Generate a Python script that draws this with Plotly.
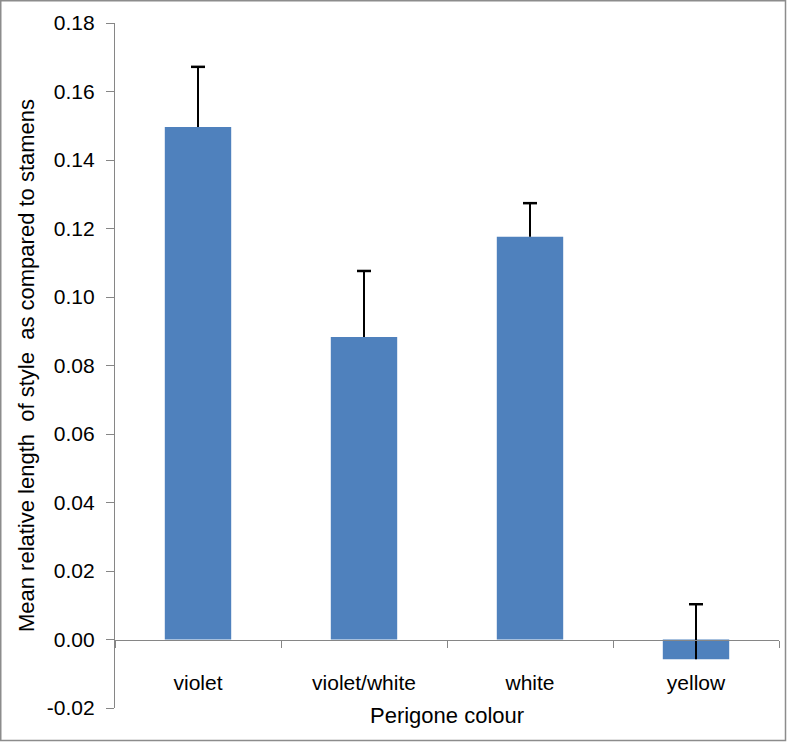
import plotly.graph_objects as go

categories = ["violet", "violet/white", "white", "yellow"]
means = [0.1496, 0.0883, 0.1176, -0.0058]
errors_plus = [0.0176, 0.0193, 0.0098, 0.0161]
ytick_vals = [-0.02, 0.00, 0.02, 0.04, 0.06, 0.08, 0.10, 0.12, 0.14, 0.16, 0.18]
ytick_text = ["-0.02", "0.00", "0.02", "0.04", "0.06", "0.08", "0.10", "0.12", "0.14", "0.16", "0.18"]

W, H = 787, 742
ML, MR, MT, MB = 115, 8, 23, 34
pw, ph = W - ML - MR, H - MT - MB

font = "Liberation Sans, Arial, sans-serif"

# error bar stems (upper side only) built from the data
stem_x, stem_y = [], []
for c, m, e in zip(categories, means, errors_plus):
    stem_x += [c, c, None]
    stem_y += [m, m + e, None]
cap_y = [m + e for m, e in zip(means, errors_plus)]

fig = go.Figure()
fig.add_trace(
    go.Bar(
        x=categories,
        y=means,
        marker=dict(color="#4F81BD", line=dict(width=0)),
        hoverinfo="skip",
    )
)
fig.add_trace(
    go.Scatter(
        x=stem_x,
        y=stem_y,
        mode="lines",
        line=dict(color="black", width=2),
        hoverinfo="skip",
    )
)
fig.add_trace(
    go.Scatter(
        x=categories,
        y=cap_y,
        mode="markers",
        marker=dict(symbol="line-ew", size=10, line=dict(color="black", width=2.5)),
        hoverinfo="skip",
    )
)

ymin, ymax = -0.02, 0.18
fig.update_layout(
    width=W,
    height=H,
    margin=dict(l=ML, r=MR, t=MT, b=MB, pad=0),
    plot_bgcolor="white",
    paper_bgcolor="white",
    bargap=0.6,
    showlegend=False,
    font=dict(family=font, size=21, color="black"),
    xaxis=dict(
        anchor="free",
        position=(0 - ymin) / (ymax - ymin),
        showline=True,
        linecolor="#868686",
        linewidth=1.3,
        ticks="outside",
        tickson="boundaries",
        ticklen=7,
        tickcolor="#868686",
        tickwidth=1.3,
        ticklabelstandoff=24,
        tickfont=dict(size=21),
        showgrid=False,
        zeroline=False,
    ),
    yaxis=dict(
        range=[ymin, ymax],
        tickmode="array",
        tickvals=ytick_vals,
        ticktext=ytick_text,
        showline=True,
        linecolor="#868686",
        linewidth=1.3,
        ticks="outside",
        ticklen=8,
        tickcolor="#868686",
        tickwidth=1.3,
        ticklabelstandoff=7,
        showgrid=False,
        zeroline=False,
        tickfont=dict(size=21),
        title=dict(
            text="Mean relative length  of style  as compared to stamens",
            font=dict(size=22),
            standoff=6,
        ),
    ),
    annotations=[
        dict(
            text="Perigone colour",
            xref="paper",
            yref="paper",
            x=0.5,
            y=(H - 716 - MB) / ph,
            xanchor="center",
            yanchor="middle",
            showarrow=False,
            font=dict(size=22),
        )
    ],
    shapes=[
        dict(
            type="rect",
            xref="paper",
            yref="paper",
            x0=(0.75 - ML) / pw,
            x1=(W - 1.5 - ML) / pw,
            y0=-(MB - 1.5) / ph,
            y1=1 + (MT - 0.75) / ph,
            line=dict(color="#8C8C8C", width=1.5),
            layer="above",
        )
    ],
)

fig.write_html(
    "out.html",
    config={"displayModeBar": False},
    post_script="document.body.style.margin='0';document.body.style.overflow='hidden';",
)
